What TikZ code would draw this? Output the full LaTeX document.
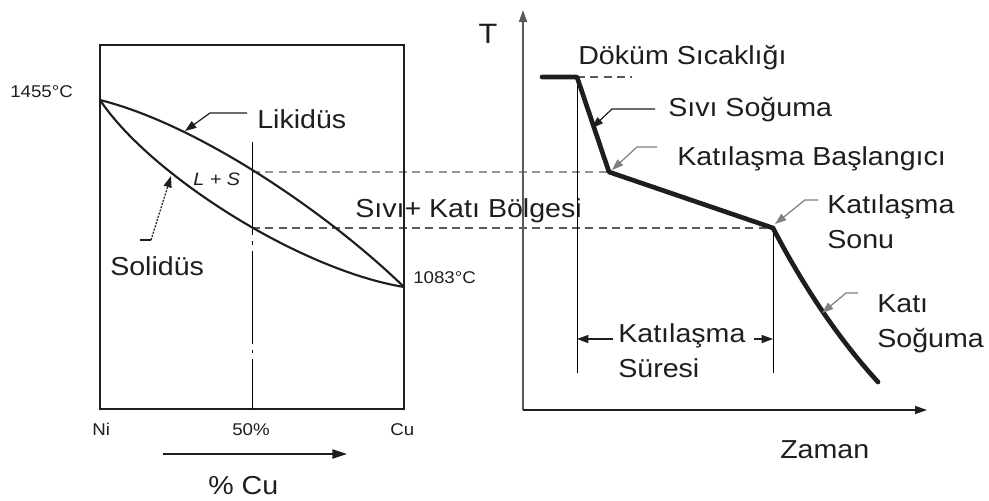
\documentclass[tikz,border=0pt]{standalone}
\usepackage{fontspec}
\usetikzlibrary{arrows.meta,calc}
\newfontfamily\labfont{Liberation Sans}[FakeStretch=1.1]
\definecolor{ink}{HTML}{1E1E1E}
\definecolor{thin}{HTML}{5A5A5A}
\definecolor{lead}{HTML}{808080}
\tikzset{
  big/.style={inner sep=0pt, anchor=base west, text=ink,
    font=\labfont\fontsize{19.5}{22}\selectfont},
  small/.style={inner sep=0pt, anchor=base west, text=ink,
    font=\labfont\fontsize{12.75}{15}\selectfont},
  phase/.style={line width=1.6pt, ink},
  cooling/.style={line width=3.5pt, ink, line join=round, line cap=round},
  guide/.style={line width=0.9pt, thin},
  levels/.style={line width=0.9pt, dash pattern=on 6pt off 4pt},
  leader/.style={line width=0.9pt, -{Triangle[length=8.5pt,width=6pt]}},
  axis/.style={line width=1.1pt, -{Triangle[length=9pt,width=6pt]}},
}
\begin{document}
\begin{tikzpicture}[x=0.75pt, y=-0.75pt]
\useasboundingbox (0,0) rectangle (989,500);

% ---------- phase diagram Ni-Cu ----------
\coordinate (nihot) at (100,100);
\coordinate (cuhot) at (404,287);
\coordinate (lc) at (252,172);
\coordinate (sc) at (252,228);
\coordinate (mtop) at (252,142);
\coordinate (mbot) at (252,409);

% ---------- cooling curve points ----------
\coordinate (p0) at (542,77);
\coordinate (p1) at (577,77);
\coordinate (p2) at (609,172);
\coordinate (p3) at (773,228);
\coordinate (p4) at (878,382);

% level lines linking the two plots
\draw[levels, color=lead!85] (lc) -- (p2);
\draw[levels, color=thin] (sc) -- (p3);

% frame
\draw[line width=1.5pt, ink] (100,45) rectangle (404,409);

% 50% composition line
\draw[line width=0.9pt, thin, dash pattern=on 70pt off 4.5pt on 2.5pt off 4.5pt]
  (mtop) -- (mbot);

% liquidus and solidus
\draw[phase] (nihot) .. controls (200,125) and (330,215) .. (cuhot);
\draw[phase] (nihot) .. controls (150,175) and (300,270) .. (cuhot);

\node[small] (t1455) at (10,97) {1455°C};
\node[small] (t1083) at (413,283) {1083°C};
\node[small] (ni) at (92,435) {Ni};
\node[small] (p50) at (232,435) {50\%};
\node[small] (cu) at (390,435) {Cu};
\node[big] (likidus) at (257,128) {Likidüs};
\node[big] (solidus) at (110,275) {Solidüs};
\node[inner sep=0pt, anchor=base west, text=ink,
  font=\labfont\itshape\fontsize{13.5}{15}\selectfont] (ls) at (193,185) {L + S};
\node[big] (bolge) at (355,217) {Sıvı+ Katı Bölgesi};
\node[big] (pcu) at (208,494) {\% Cu};

% composition arrow
\coordinate (cua) at (163,454);
\coordinate (cub) at (347,454);
\draw[line width=1.1pt, ink, -{Triangle[length=11pt,width=7pt]}] (cua) -- (cub);

% leaders on the phase diagram
\coordinate (likA) at (247,113);
\coordinate (likB) at (210,113);
\coordinate (likT) at (185,131);
\draw[leader, ink] (likA) -- (likB) -- (likT);
\coordinate (solA) at (140,240);
\coordinate (solB) at (151,240);
\coordinate (solT) at (171,176);
\draw[line width=0.9pt, ink] (solA) -- (solB);
\draw[leader, ink, dash pattern=on 1.5pt off 1pt] (solB) -- (solT);

% ---------- cooling curve plot ----------
\coordinate (ax0) at (523,410);
\coordinate (axT) at (523,10);
\coordinate (axZ) at (927,410);
\draw[axis, color=thin] (ax0) -- (axT);
\draw[axis, ink] (ax0) -- (axZ);

\coordinate (v1b) at (577,373);
\coordinate (v2b) at (773,373);
\draw[guide] (p1) -- (v1b);
\draw[guide] (p3) -- (v2b);

\coordinate (pour) at (632,77);
\draw[levels, color=thin] (p1) -- (pour);

\draw[cooling] (p0) -- (p1) -- (p2) -- (p3)
  .. controls (800,280) and (835,335) .. (p4);

\node[inner sep=0pt, anchor=base, text=ink,
  font=\labfont\fontsize{21}{24}\selectfont] (Tlab) at (488,43) {T};
\node[big] (dokum) at (578,64) {Döküm Sıcaklığı};
\node[big] (sivi) at (668,116) {Sıvı Soğuma};
\node[big] (basl) at (677,165) {Katılaşma Başlangıcı};
\node[big] (sonu1) at (827,213) {Katılaşma};
\node[big] (sonu2) at (827,248) {Sonu};
\node[big] (kati1) at (877,312) {Katı};
\node[big] (kati2) at (877,347) {Soğuma};
\node[big] (sure1) at (618,342) {Katılaşma};
\node[big] (sure2) at (618,377) {Süresi};
\node[big] (zaman) at (780,458) {Zaman};

% leaders on the cooling curve
\coordinate (svA) at (655,109);
\coordinate (svB) at (612,109);
\coordinate (svT) at (592,128);
\draw[leader, ink] (svA) -- (svB) -- (svT);
\coordinate (bsA) at (657,147);
\coordinate (bsB) at (637,147);
\coordinate (bsT) at (612,170);
\draw[leader, lead] (bsA) -- (bsB) -- (bsT);
\coordinate (snA) at (818,200);
\coordinate (snB) at (805,200);
\coordinate (snT) at (775,224);
\draw[leader, lead] (snA) -- (snB) -- (snT);
\coordinate (ksA) at (858,293);
\coordinate (ksB) at (846,293);
\coordinate (ksT) at (822,313);
\draw[leader, lead] (ksA) -- (ksB) -- (ksT);

% solidification time span
\coordinate (srL) at (613,339);
\coordinate (srR) at (754,339);
\draw[leader, ink] (srL) -- (v1b |- srL);
\draw[leader, ink] (srR) -- (v2b |- srR);
\end{tikzpicture}
\end{document}
